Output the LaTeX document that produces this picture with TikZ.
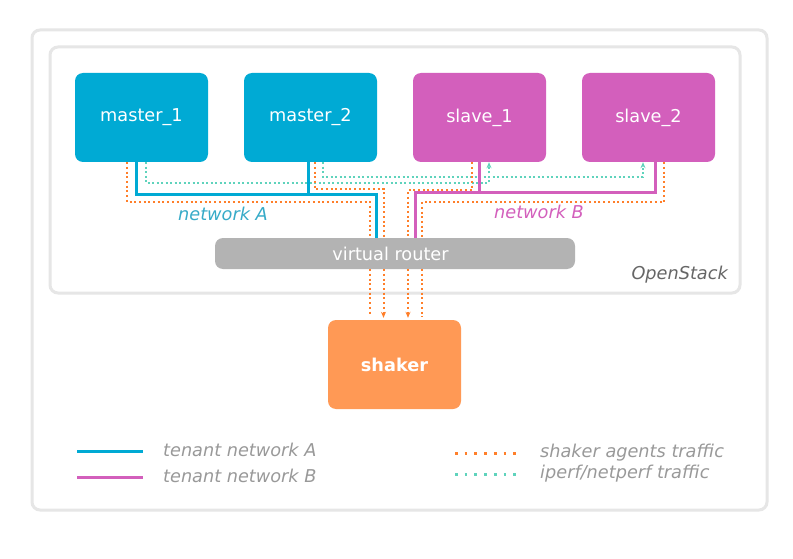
\documentclass[tikz,border=0pt]{standalone}
\usepackage{fontspec}
\setmainfont{DejaVu Sans}
\usetikzlibrary{arrows.meta}
\definecolor{cA}{HTML}{00AAD4}
\definecolor{cAt}{HTML}{37ABC8}
\definecolor{cB}{HTML}{D35FBC}
\definecolor{cOr}{HTML}{FF7F2A}
\definecolor{cSh}{HTML}{FF9955}
\definecolor{cTe}{HTML}{5FD3BC}
\definecolor{cRt}{HTML}{B3B3B3}
\definecolor{cFr}{HTML}{E6E6E6}
\definecolor{cLg}{HTML}{999999}
\definecolor{cOs}{HTML}{666666}
\tikzset{
  txt/.style={font=\fontsize{17.7}{20}\selectfont},
  vmbox/.style={txt, rounded corners=8pt, minimum width=133pt, minimum height=89pt, text=white, inner sep=0pt},
  boxA/.style={vmbox, fill=cA},
  boxB/.style={vmbox, fill=cB},
  frame/.style={draw=cFr, line width=3pt, rounded corners=8pt},
  netA/.style={draw=cA, line width=3pt},
  netB/.style={draw=cB, line width=3pt},
  agent/.style={draw=cOr, line width=2pt, dash pattern=on 2pt off 2.7pt},
  iperf/.style={draw=cTe, line width=2pt, dash pattern=on 2pt off 2.5pt},
  tip/.style={-{Stealth[length=6pt,width=5pt]}},
  lgtext/.style={txt, text=cLg, font=\fontsize{17.7}{20}\selectfont\itshape, anchor=west, inner sep=0pt},
}
\begin{document}
\begin{tikzpicture}[x=1pt,y=-1pt]
\useasboundingbox (0,0) rectangle (793,559);
\fill[white] (0,0) rectangle (793,559);
\draw[frame] (32,30) rectangle (767,510);
\draw[frame] (50,47) rectangle (740,293);
\node[txt, text=cOs, font=\fontsize{17.7}{20}\selectfont\itshape, anchor=east, inner sep=0pt] (os) at (728,275) {OpenStack};

\node[boxA] (m1) at (141.5,117.5) {master\_1};
\node[boxA] (m2) at (310.5,117.5) {master\_2};
\node[boxB] (s1) at (479.5,117.5) {slave\_1};
\node[boxB] (s2) at (648.5,117.5) {slave\_2};
\node[fill=cRt, rounded corners=8pt, minimum width=360pt, minimum height=31pt, inner sep=0pt] (router) at (395,253.5) {};
\node[txt, text=white, inner sep=0pt] (rtext) at ([xshift=-4.5pt]router.center) {virtual router};
\node[vmbox, fill=cSh, font=\fontsize{17.7}{20}\selectfont\bfseries] (shaker) at (394.5,364.5) {shaker};

% iperf traffic
\draw[iperf, tip] ([xshift=4.5pt]m1.south) |- (489,183) -- ([xshift=9.5pt]s1.south);
\draw[iperf, tip] ([xshift=12.5pt]m2.south) |- (643,177) -- ([xshift=-5.5pt]s2.south);

% shaker agents traffic
\draw[agent] ([xshift=-14.5pt]m1.south) |- (370,202) -- (router.north -| 370,0);
\draw[agent] ([xshift=4.5pt]m2.south) |- (383.5,189) -- (router.north -| 383.5,0);
\draw[agent] ([xshift=-7.5pt]s1.south) |- (408,190) -- (router.north -| 408,0);
\draw[agent] ([xshift=15.5pt]s2.south) |- (422,202) -- (router.north -| 422,0);
\draw[agent, shorten >=6pt] (router.south -| 370,0) -- (shaker.north -| 370,0);
\draw[agent, tip, shorten >=2pt] (router.south -| 383.5,0) -- (shaker.north -| 383.5,0);
\draw[agent, tip, shorten >=2pt] (router.south -| 408,0) -- (shaker.north -| 408,0);
\draw[agent, shorten >=3pt] (router.south -| 422,0) -- (shaker.north -| 422,0);

% tenant networks
\draw[netA] ([xshift=-5pt]m1.south) |- (376,195) -- (router.north -| 376,0);
\draw[netA] ([xshift=-2.5pt]m2.south) -- ([xshift=-2.5pt]m2.south |- 0,195);
\draw[netB] ([xshift=6.5pt]s2.south) |- (415,193) -- (router.north -| 415,0);
\draw[netB] (s1.south) -- (s1.south |- 0,193);

\node[txt, text=cAt, font=\fontsize{17.7}{20}\selectfont\itshape] (la) at (223,214) {network A};
\node[txt, text=cB, font=\fontsize{17.7}{20}\selectfont\itshape] (lb) at (539,212) {network B};

% legend
\coordinate (l1a) at (77,451); \coordinate (l1b) at (143,451);
\coordinate (l2a) at (77,477); \coordinate (l2b) at (143,477);
\coordinate (l3a) at (455,453); \coordinate (l3b) at (522,453);
\coordinate (l4a) at (455,474); \coordinate (l4b) at (522,474);
\draw[netA] (l1a) -- (l1b);
\draw[netB] (l2a) -- (l2b);
\draw[draw=cOr, line width=3pt, dash pattern=on 2.7pt off 7pt] (l3a) -- (l3b);
\draw[draw=cTe, line width=3pt, dash pattern=on 2.7pt off 7pt] (l4a) -- (l4b);
\node[lgtext] (t1) at (163,450) {tenant network A};
\node[lgtext] (t2) at (163,476) {tenant network B};
\node[lgtext] (t3) at (540,453) {shaker agents traffic};
\node[lgtext] (t4) at (540,474) {iperf/netperf traffic};
\end{tikzpicture}
\end{document}
